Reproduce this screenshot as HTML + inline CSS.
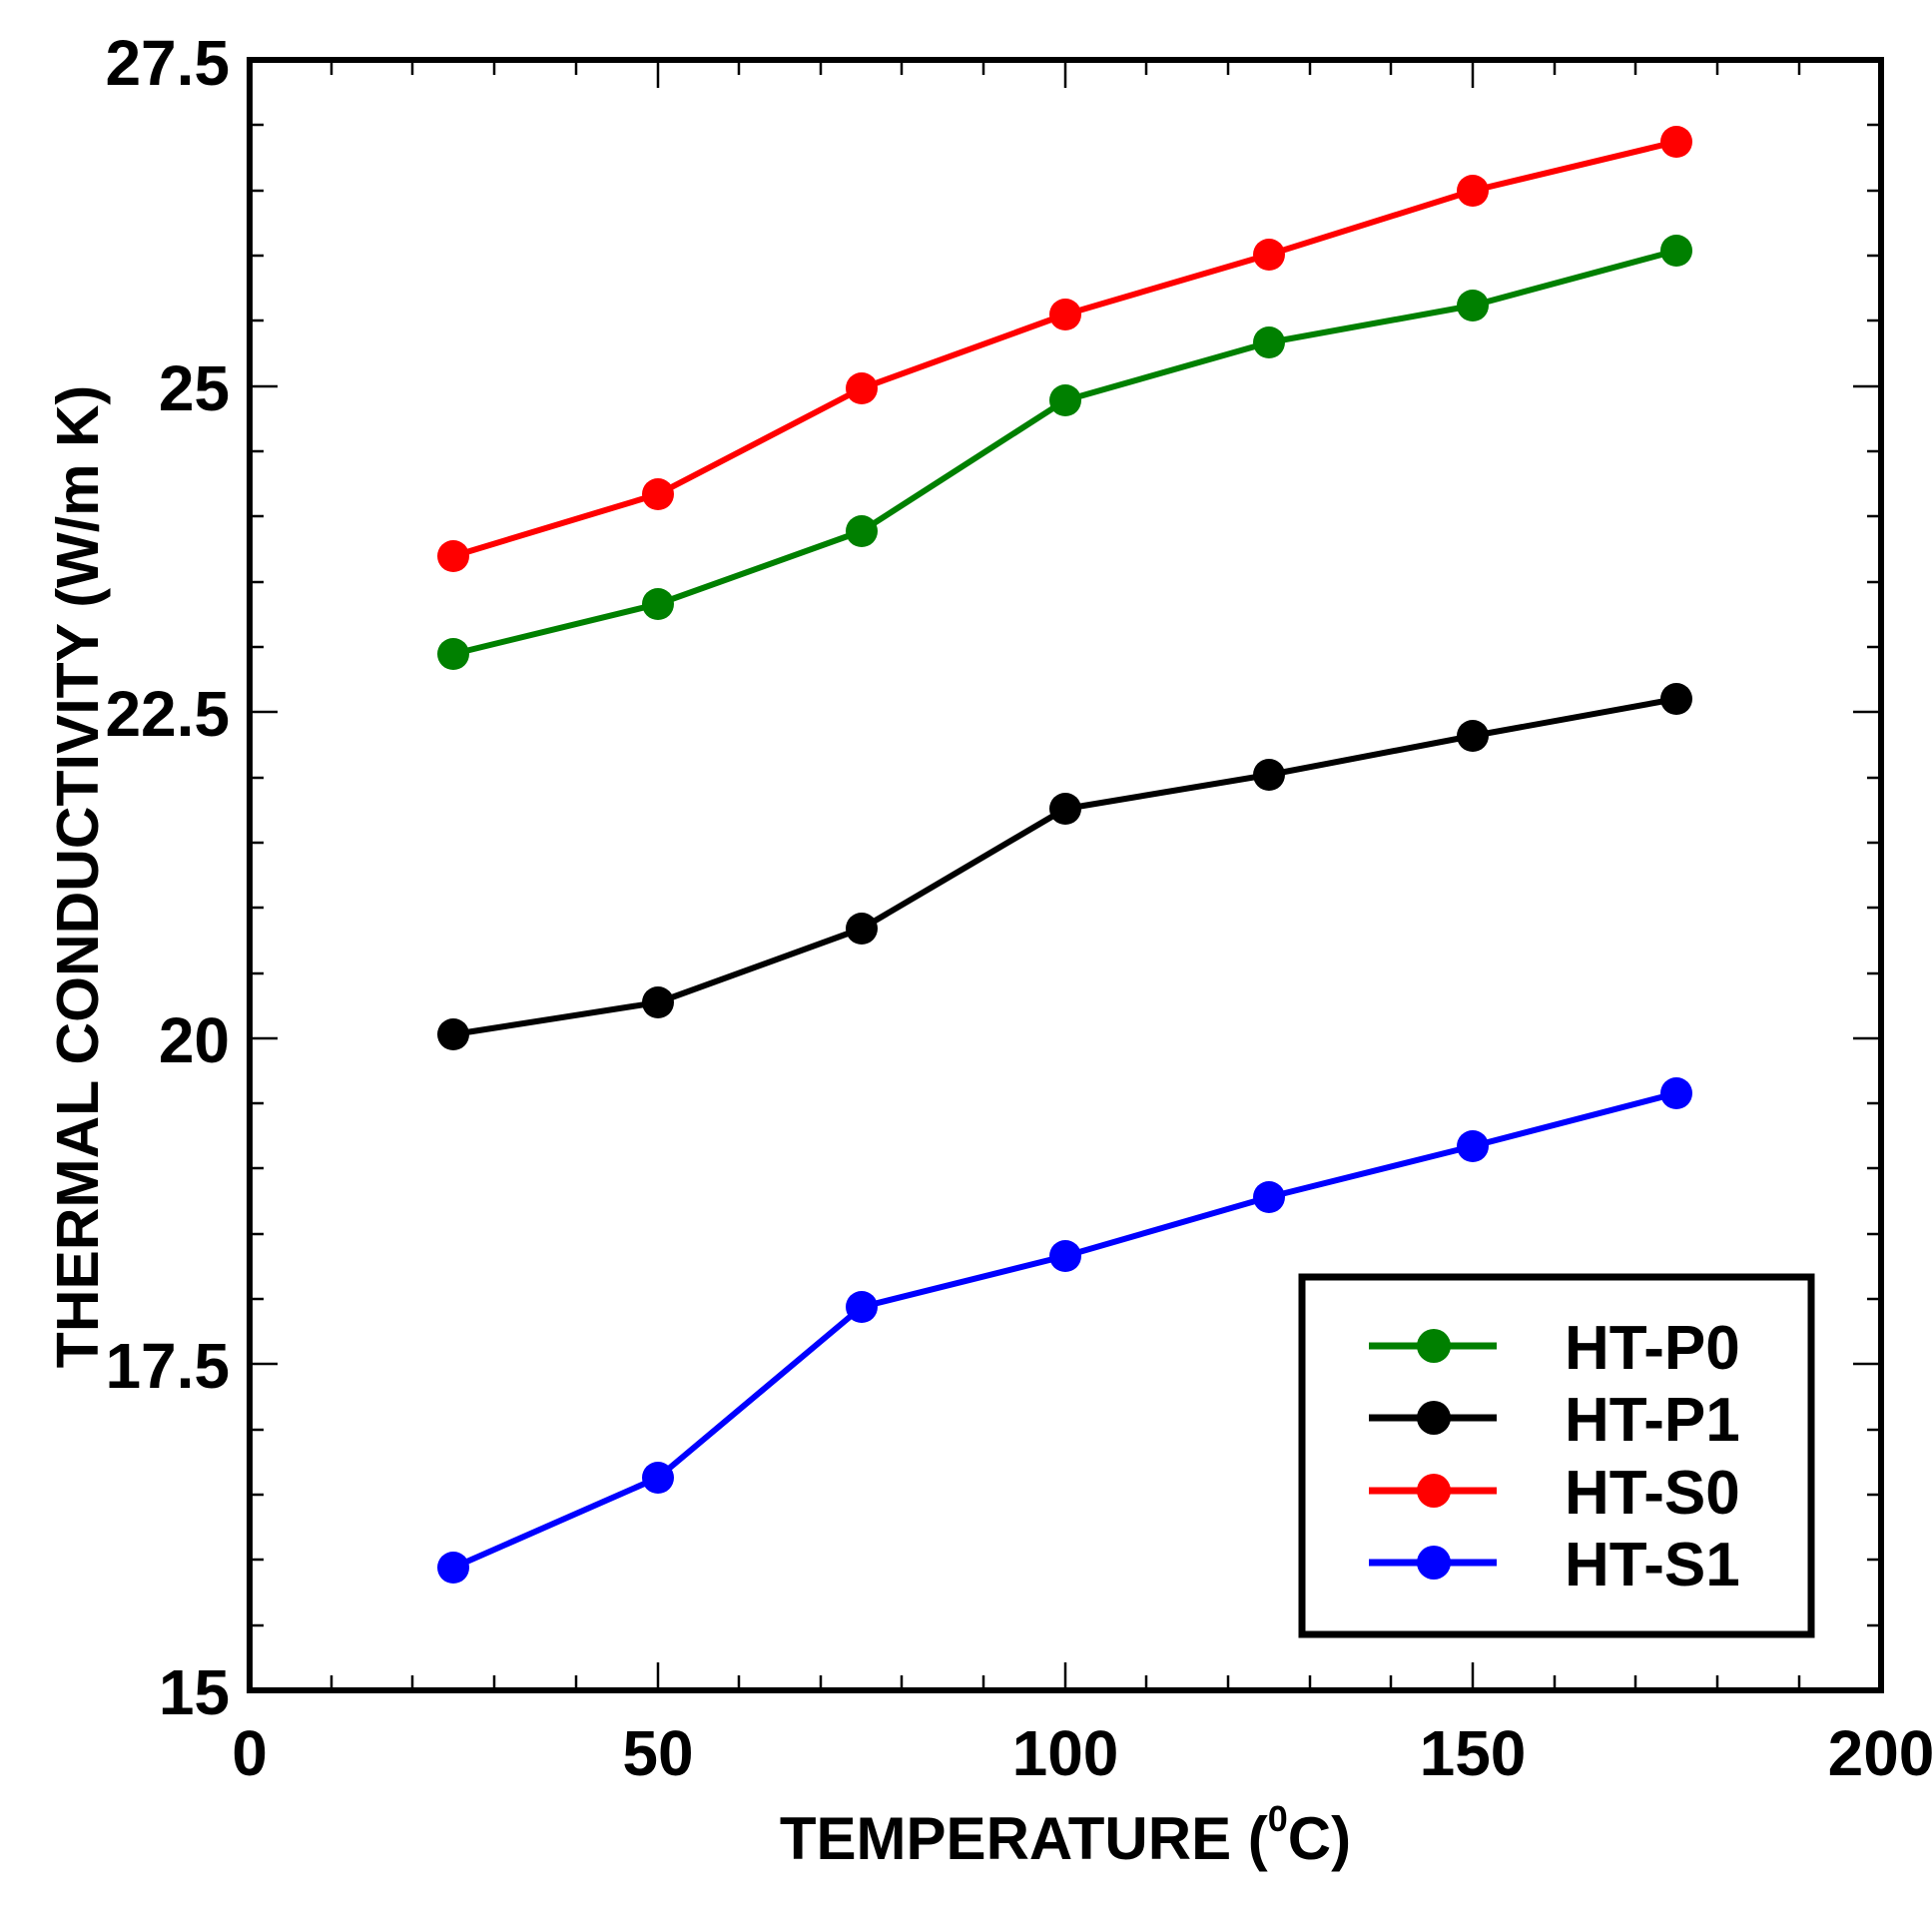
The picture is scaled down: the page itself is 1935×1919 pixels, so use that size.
<!DOCTYPE html>
<html><head><style>html,body{margin:0;padding:0;background:#fff}</style></head><body>
<svg width="1935" height="1914" viewBox="0 0 1935 1914" xmlns="http://www.w3.org/2000/svg" font-family="Liberation Sans, Arial, sans-serif" font-weight="bold">
<rect width="1935" height="1914" fill="#fff"/>
<g stroke="#000" stroke-width="2.5">
<path d="M332,1693v-15M413,1693v-15M495,1693v-15M577,1693v-15M740,1693v-15M822,1693v-15M903,1693v-15M985,1693v-15M1148,1693v-15M1230,1693v-15M1312,1693v-15M1393,1693v-15M1557,1693v-15M1638,1693v-15M1720,1693v-15M1802,1693v-15"/>
<path d="M659,1693v-28M1067,1693v-28M1475,1693v-28"/>
<path d="M332,60v15M413,60v15M495,60v15M577,60v15M740,60v15M822,60v15M903,60v15M985,60v15M1148,60v15M1230,60v15M1312,60v15M1393,60v15M1557,60v15M1638,60v15M1720,60v15M1802,60v15"/>
<path d="M659,60v28M1067,60v28M1475,60v28"/>
<path d="M250,1628h14M250,1562h14M250,1497h14M250,1432h14M250,1301h14M250,1236h14M250,1170h14M250,1105h14M250,975h14M250,909h14M250,844h14M250,779h14M250,648h14M250,583h14M250,517h14M250,452h14M250,321h14M250,256h14M250,191h14M250,125h14"/>
<path d="M250,1366h28M250,1040h28M250,713h28M250,387h28"/>
<path d="M1884,1628h-14M1884,1562h-14M1884,1497h-14M1884,1432h-14M1884,1301h-14M1884,1236h-14M1884,1170h-14M1884,1105h-14M1884,975h-14M1884,909h-14M1884,844h-14M1884,779h-14M1884,648h-14M1884,583h-14M1884,517h-14M1884,452h-14M1884,321h-14M1884,256h-14M1884,191h-14M1884,125h-14"/>
<path d="M1884,1366h-28M1884,1040h-28M1884,713h-28M1884,387h-28"/>
</g>
<rect x="250" y="60" width="1634" height="1633" fill="none" stroke="#000" stroke-width="6"/>
<g font-size="64" fill="#000" text-anchor="end">
<text x="230" y="1717">15</text>
<text x="230" y="1390">17.5</text>
<text x="230" y="1064">20</text>
<text x="230" y="737">22.5</text>
<text x="230" y="411">25</text>
<text x="230" y="85">27.5</text>
</g>
<g font-size="64" fill="#000" text-anchor="middle">
<text x="250" y="1778">0</text>
<text x="659" y="1778">50</text>
<text x="1067" y="1778">100</text>
<text x="1475" y="1778">150</text>
<text x="1884" y="1778">200</text>
</g>
<text x="1067" y="1862" font-size="60" text-anchor="middle">TEMPERATURE (<tspan font-size="36" dy="-28">0</tspan><tspan dy="28">C)</tspan></text>
<text transform="translate(98,878) rotate(-90)" font-size="59" text-anchor="middle">THERMAL CONDUCTIVITY (W/m K)</text>
<g fill="none" stroke-width="6" stroke-linejoin="round">
<polyline stroke="#008000" points="454,655 659,605 863,532 1067,401 1271,343 1475,306 1679,251"/>
<polyline stroke="#000" points="454,1036 659,1004 863,930 1067,810 1271,776 1475,737 1679,700"/>
<polyline stroke="#ff0000" points="454,557 659,495 863,389 1067,315 1271,255 1475,191 1679,142"/>
<polyline stroke="#0000ff" points="454,1570 659,1480 863,1309 1067,1258 1271,1199 1475,1148 1679,1095"/>
</g>
<g fill="#008000"><circle cx="454" cy="655" r="16"/><circle cx="659" cy="605" r="16"/><circle cx="863" cy="532" r="16"/><circle cx="1067" cy="401" r="16"/><circle cx="1271" cy="343" r="16"/><circle cx="1475" cy="306" r="16"/><circle cx="1679" cy="251" r="16"/></g>
<g fill="#000"><circle cx="454" cy="1036" r="16"/><circle cx="659" cy="1004" r="16"/><circle cx="863" cy="930" r="16"/><circle cx="1067" cy="810" r="16"/><circle cx="1271" cy="776" r="16"/><circle cx="1475" cy="737" r="16"/><circle cx="1679" cy="700" r="16"/></g>
<g fill="#ff0000"><circle cx="454" cy="557" r="16"/><circle cx="659" cy="495" r="16"/><circle cx="863" cy="389" r="16"/><circle cx="1067" cy="315" r="16"/><circle cx="1271" cy="255" r="16"/><circle cx="1475" cy="191" r="16"/><circle cx="1679" cy="142" r="16"/></g>
<g fill="#0000ff"><circle cx="454" cy="1570" r="16"/><circle cx="659" cy="1480" r="16"/><circle cx="863" cy="1309" r="16"/><circle cx="1067" cy="1258" r="16"/><circle cx="1271" cy="1199" r="16"/><circle cx="1475" cy="1148" r="16"/><circle cx="1679" cy="1095" r="16"/></g>
<rect x="1304" y="1279" width="510" height="358" fill="#fff" stroke="#000" stroke-width="7"/>
<g stroke-width="7">
<line x1="1371" y1="1348" x2="1499" y2="1348" stroke="#008000"/>
<line x1="1371" y1="1420" x2="1499" y2="1420" stroke="#000"/>
<line x1="1371" y1="1493" x2="1499" y2="1493" stroke="#ff0000"/>
<line x1="1371" y1="1565" x2="1499" y2="1565" stroke="#0000ff"/>
</g>
<circle cx="1436" cy="1348" r="17" fill="#008000"/>
<circle cx="1436" cy="1420" r="17" fill="#000"/>
<circle cx="1436" cy="1493" r="17" fill="#ff0000"/>
<circle cx="1436" cy="1565" r="17" fill="#0000ff"/>
<g font-size="62" fill="#000">
<text x="1567" y="1371">HT-P0</text>
<text x="1567" y="1443">HT-P1</text>
<text x="1567" y="1516">HT-S0</text>
<text x="1567" y="1588">HT-S1</text>
</g>
</svg>
</body></html>
